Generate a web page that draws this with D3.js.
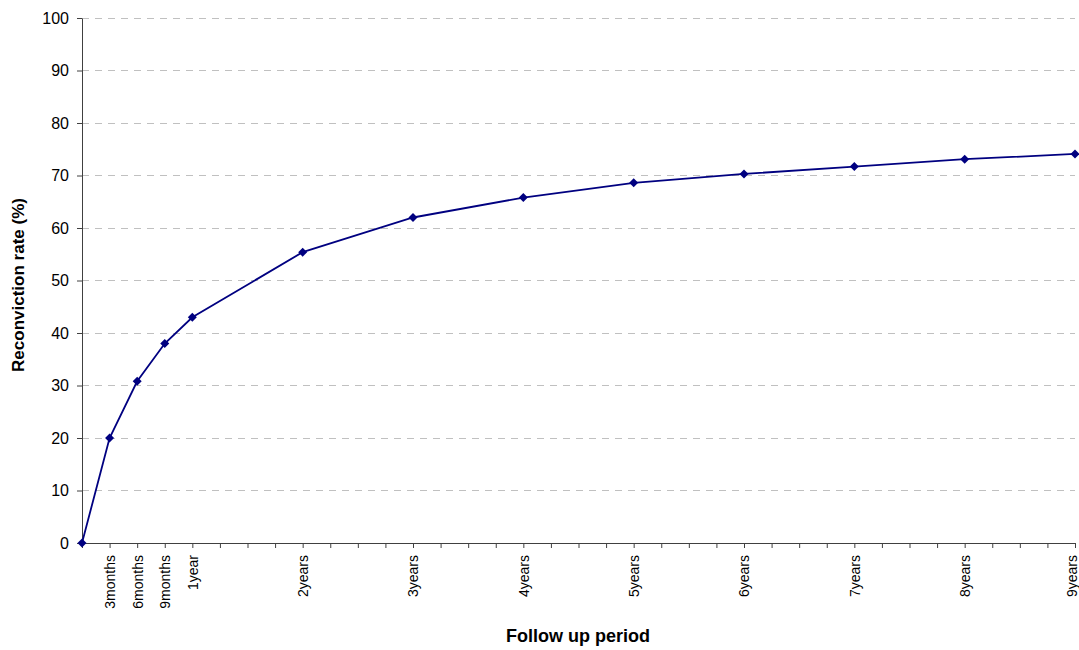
<!DOCTYPE html>
<html><head><meta charset="utf-8">
<script src="https://cdn.jsdelivr.net/npm/d3@7"></script>
<style>body{margin:0;background:#fff}svg{display:block}text{font-family:Arial,"Liberation Sans",sans-serif}</style>
</head><body>
<svg id="c" width="1079" height="650"></svg>
<script>
// quarters since release, 0..36
const quarters = d3.range(0, 37);
const tickLabels = {1:"3months",2:"6months",3:"9months",4:"1year",8:"2years",12:"3years",16:"4years",20:"5years",24:"6years",28:"7years",32:"8years",36:"9years"};
const pointQuarters = [0, 1, 2, 3, 4, 8, 12, 16, 20, 24, 28, 32, 36];
const rates = [0, 20.0, 30.8, 38.0, 43.0, 55.4, 62.0, 65.8, 68.6, 70.3, 71.7, 73.1, 74.1];
const yTicks = [0,10,20,30,40,50,60,70,80,90,100];

const svg = d3.select("#c");
const L = 82, R = 1075, T = 18, B = 543;
const x = d3.scalePoint().domain(quarters).range([L, R]);
const y = d3.scaleLinear().domain([0, 100]).range([B, T]);

// gridlines
svg.append("g").selectAll("line").data(yTicks.filter(d => d > 0)).join("line")
  .attr("x1", L).attr("x2", R).attr("y1", d => y(d)).attr("y2", d => y(d))
  .attr("stroke", "#c0c0c0").attr("stroke-width", 1).attr("stroke-dasharray", "7,6")
  .attr("shape-rendering", "crispEdges");

// y axis
const ya = svg.append("g").attr("transform", `translate(${L},0)`)
  .call(d3.axisLeft(y).tickValues(yTicks).tickSize(5).tickPadding(8).tickSizeOuter(0));
ya.select(".domain").attr("stroke", "#404040");
ya.selectAll(".tick line").attr("stroke", "#404040");
ya.selectAll("text").attr("font-size", 16).attr("fill", "#000").attr("font-family", "Arial, 'Liberation Sans', sans-serif");

// x axis
const xa = svg.append("g").attr("transform", `translate(0,${B})`)
  .call(d3.axisBottom(x).tickValues(quarters).tickSize(5).tickSizeOuter(0).tickFormat(d => tickLabels[d] || ""));
xa.select(".domain").attr("stroke", "#404040");
xa.selectAll(".tick line").attr("stroke", "#404040");
xa.selectAll("text").attr("font-size", 14).attr("fill", "#000")
  .attr("font-family", "Arial, 'Liberation Sans', sans-serif")
  .attr("transform", "rotate(-90)").attr("text-anchor", "end")
  .attr("x", -12).attr("y", d => d === 36 ? -3 : 0).attr("dy", "0.35em");

// line
const pts = pointQuarters.map((q, i) => [q, rates[i]]);
svg.append("path").datum(pts)
  .attr("fill", "none").attr("stroke", "#000080").attr("stroke-width", 1.8)
  .attr("d", d3.line().x(d => x(d[0])).y(d => y(d[1])));

// markers
svg.append("g").selectAll("path").data(pts).join("path")
  .attr("transform", d => `translate(${x(d[0])},${y(d[1])})`)
  .attr("d", "M0,-4.5L4.5,0L0,4.5L-4.5,0Z").attr("fill", "#000080");

// titles
svg.append("text").attr("x", 578).attr("y", 642).attr("text-anchor", "middle")
  .attr("font-size", 18).attr("font-weight", "bold").text("Follow up period");
svg.append("text").attr("transform", `translate(24,285) rotate(-90)`)
  .attr("text-anchor", "middle").attr("font-size", 17).attr("font-weight", "bold")
  .text("Reconviction rate (%)");
</script>
</body></html>
